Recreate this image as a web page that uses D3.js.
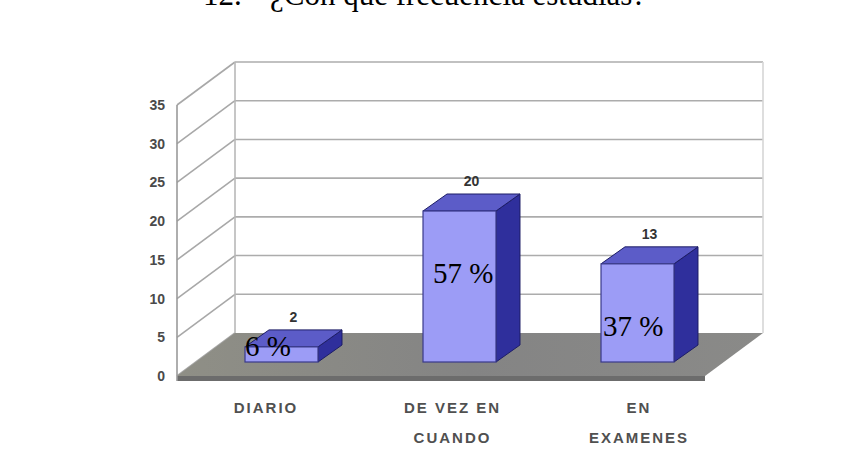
<!DOCTYPE html>
<html><head><meta charset="utf-8">
<script src="https://cdn.jsdelivr.net/npm/d3@7"></script>
<style>body{margin:0;background:#fff;}svg{display:block;}</style>
</head><body>
<svg id="c" width="842" height="468"></svg>
<script>
const titleNum = "12.-";
const titleText = "¿Con qué frecuencia estudias?";
const categories = ["DIARIO", "DE VEZ EN CUANDO", "EN EXAMENES"];
const categoryLines = [["DIARIO"], ["DE VEZ EN", "CUANDO"], ["EN", "EXAMENES"]];
const values = [2, 20, 13];
const percentLabels = ["6 %", "57 %", "37 %"];
const yTicks = [0, 5, 10, 15, 20, 25, 30, 35];

const svg = d3.select("#c");

// geometry
const frontL = 177, frontR = 705;
const depth = {x: 58, y: -43};
const yFront = d3.scaleLinear().domain([0, 35]).range([376, 105]);
const barOff = {x: 21, y: -14};
const barDepth = {x: 24, y: -17};
const yBar = d3.scaleLinear().domain([0, 35]).range([362, 362 - 35 * 7.55]);
const xBand = d3.scaleBand().domain(categories).range([171.5, 705.5]).paddingInner(0.59).paddingOuter(0.295);
const xLabel = d3.scalePoint().domain(categories).range([265, 638]);

// title (cut at the top edge as in the reference)
const serif = "'Liberation Serif','Times New Roman',serif";
svg.append("text").attr("x", 203).attr("y", 5).attr("font-family", serif)
  .attr("font-size", 31).attr("fill", "#000").text(titleNum);
svg.append("text").attr("x", 270).attr("y", 5).attr("font-family", serif)
  .attr("font-size", 31).attr("fill", "#000").text(titleText);

// back wall gridlines + left wall diagonals
const g = svg.append("g");
yTicks.forEach(t => {
  const y = yFront(t);
  if (t > 0) {
    g.append("line").attr("x1", frontL + depth.x).attr("x2", frontR + depth.x)
      .attr("y1", y + depth.y).attr("y2", y + depth.y)
      .attr("stroke", "#acacac").attr("stroke-width", 1.6);
  }
  g.append("line").attr("x1", frontL).attr("y1", y).attr("x2", frontL + depth.x).attr("y2", y + depth.y)
    .attr("stroke", "#a8a8a8").attr("stroke-width", 1.6);
});
g.append("line").attr("x1", frontL + depth.x).attr("x2", frontL + depth.x)
  .attr("y1", yFront(35) + depth.y).attr("y2", yFront(0) + depth.y).attr("stroke", "#b8b8b8").attr("stroke-width", 1.6);
g.append("line").attr("x1", frontR + depth.x).attr("x2", frontR + depth.x)
  .attr("y1", yFront(35) + depth.y).attr("y2", yFront(0) + depth.y).attr("stroke", "#d6d6d6").attr("stroke-width", 1.6);

// floor
const y0 = yFront(0);
const floorGrad = svg.append("defs").append("linearGradient").attr("id", "fl").attr("x1", 0).attr("x2", 1);
floorGrad.append("stop").attr("offset", 0).attr("stop-color", "#8f8f86");
floorGrad.append("stop").attr("offset", 0.5).attr("stop-color", "#848484");
floorGrad.append("stop").attr("offset", 1).attr("stop-color", "#8a8a88");
g.append("path").attr("d", `M${frontL},${y0}L${frontR},${y0}L${frontR + depth.x},${y0 + depth.y}L${frontL + depth.x},${y0 + depth.y}Z`)
  .attr("fill", "url(#fl)");
g.append("rect").attr("x", frontL).attr("y", y0).attr("width", frontR - frontL).attr("height", 5).attr("fill", "#6c6c6c");

// left axis line
g.append("line").attr("x1", frontL).attr("x2", frontL).attr("y1", yFront(35)).attr("y2", y0 + 5)
  .attr("stroke", "#9a9a9a").attr("stroke-width", 1.6);

// y tick labels
const sans = "Arial, 'Liberation Sans', sans-serif";
svg.append("g").selectAll("text").data(yTicks).join("text")
  .attr("x", 165).attr("y", d => yFront(d) + 5).attr("text-anchor", "end")
  .attr("font-family", sans).attr("font-size", 14).attr("font-weight", "bold")
  .attr("fill", "#4a4a4a").text(d => d);

// bars
const bars = svg.append("g");
const pctShift = [0, 10, 2];
categories.forEach((c, i) => {
  const v = values[i];
  const x0 = xBand(c) + barOff.x, x1 = x0 + xBand.bandwidth();
  const yb = yBar(0), yt = yBar(v);
  const dx = barDepth.x, dy = barDepth.y;
  bars.append("path").attr("d", `M${x1},${yb}L${x1 + dx},${yb + dy}L${x1 + dx},${yt + dy}L${x1},${yt}Z`)
    .attr("fill", "#2f2f9c").attr("stroke", "#1d1d66").attr("stroke-width", 1);
  bars.append("path").attr("d", `M${x0},${yt}L${x1},${yt}L${x1 + dx},${yt + dy}L${x0 + dx},${yt + dy}Z`)
    .attr("fill", "#5c5cc8").attr("stroke", "#1d1d66").attr("stroke-width", 1);
  bars.append("rect").attr("x", x0).attr("y", yt).attr("width", x1 - x0).attr("height", yb - yt)
    .attr("fill", "#9c9cf6").attr("stroke", "#3a3a8a").attr("stroke-width", 1.2);
  bars.append("text").attr("x", (x0 + x1) / 2 + dx / 2).attr("y", yt + dy - 8).attr("text-anchor", "middle")
    .attr("font-family", sans).attr("font-size", 14).attr("font-weight", "bold")
    .attr("fill", "#333").text(v);
  bars.append("text").attr("x", x0 + pctShift[i]).attr("y", Math.min(yt + 72, yb - 6))
    .attr("font-family", serif).attr("font-size", 29)
    .attr("fill", "#000").text(percentLabels[i]);
});

// category labels
const cl = svg.append("g");
categories.forEach((c, i) => {
  categoryLines[i].forEach((line, j) => {
    cl.append("text").attr("x", xLabel(c) + 1).attr("y", 413 + j * 30).attr("text-anchor", "middle")
      .attr("font-family", sans).attr("font-size", 15).attr("font-weight", "bold")
      .attr("letter-spacing", 2)
      .attr("fill", "#505050").text(line);
  });
});
</script>
</body></html>
